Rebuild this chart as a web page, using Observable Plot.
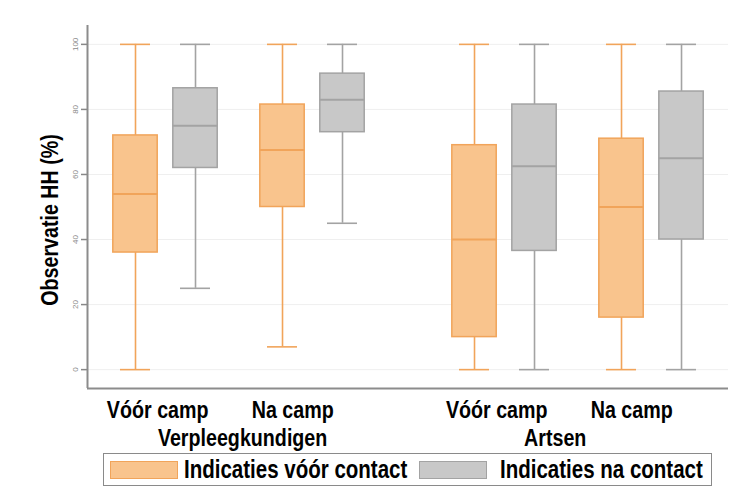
<!DOCTYPE html>
<html>
<head>
<meta charset="utf-8">
<script src="https://cdn.jsdelivr.net/npm/d3@7"></script>
<script src="https://cdn.jsdelivr.net/npm/@observablehq/plot@0.6"></script>
<style>
  body { margin: 0; background: #fff; font-family: "Liberation Sans", sans-serif; }
  #legend { position: relative; margin-left: 103px; width: 607px; height: 31px; border: 1.5px solid #8a8a8a; margin-top: 1px; box-sizing: content-box; }
  #legend .sw { position: absolute; top: 7px; width: 68px; height: 18px; box-sizing: border-box; }
  #legend .lb { position: absolute; top: 0px; font-weight: bold; font-size: 25px; line-height: 31px; color: #000; white-space: nowrap; transform: scaleX(0.82); transform-origin: 0 50%; }
</style>
</head>
<body>
<div id="chart"></div>
<script>
// ---- data ----
const groups = ["Verpleegkundigen", "Artsen"];
const camps = ["Vóór camp", "Na camp"];
const series = ["Indicaties vóór contact", "Indicaties na contact"];
// order: group -> camp -> series
const mins    = [0, 25, 7, 45, 0, 0, 0, 0];
const q1s     = [36, 62, 50, 73, 10, 36.5, 16, 40];
const medians = [54, 75, 67.5, 83, 40, 62.5, 50, 65];
const q3s     = [72, 86.5, 81.5, 91, 69, 81.5, 71, 85.5];
const maxs    = [100, 100, 100, 100, 100, 100, 100, 100];
const yTicks  = [0, 20, 40, 60, 80, 100];

// ---- layout helpers ----
const groupStep = 5.65, campStep = 2.45, seriesStep = 1;
const boxHalf = 0.37, capHalf = 0.25;
const fills   = {"Indicaties vóór contact": "#f9c48d", "Indicaties na contact": "#c8c8c8"};
const strokes = {"Indicaties vóór contact": "#f1a45a", "Indicaties na contact": "#a3a3a3"};

const boxes = [];
let k = 0;
groups.forEach((g, gi) => camps.forEach((c, ci) => series.forEach((s, si) => {
  boxes.push({group: g, camp: c, series: s,
    pos: gi * groupStep + ci * campStep + si * seriesStep,
    min: mins[k], q1: q1s[k], med: medians[k], q3: q3s[k], max: maxs[k]});
  k++;
})));

// label nudges (in x units) to mimic the reference's slightly left-shifted labels
const campNudge = [-0.13, -0.33];
const groupNudge = [0.06, -0.38];
const campLabels = [];
groups.forEach((g, gi) => camps.forEach((c, ci) => {
  campLabels.push({label: c, pos: gi * groupStep + ci * campStep + seriesStep / 2 + campNudge[ci]});
}));
const groupLabels = groups.map((g, gi) => ({label: g, pos: gi * groupStep + campStep / 2 + seriesStep / 2 + groupNudge[gi]}));

const xDomain = [-0.8, 9.883];
const yDomain = [-5.8, 105.8];
const font = "Liberation Sans";

const chart = Plot.plot({
  width: 754,
  height: 452,
  marginLeft: 87,
  marginRight: 26,
  marginTop: 25,
  marginBottom: 64,
  style: {fontFamily: font, background: "#fff"},
  x: {domain: xDomain, axis: null},
  y: {domain: yDomain, axis: null},
  marks: [
    Plot.ruleY(yTicks, {stroke: "#efefef", strokeWidth: 1}),
    Plot.axisY(yTicks, {anchor: "left", tickSize: 6, tickPadding: 4, tickRotate: -90, fontSize: 8, fill: "#8a8a8a", stroke: "#888", strokeWidth: 1.5, label: null}),
    // whiskers
    Plot.ruleX(boxes, {x: "pos", y1: "min", y2: "q1", stroke: d => strokes[d.series], strokeWidth: 1.6}),
    Plot.ruleX(boxes, {x: "pos", y1: "q3", y2: "max", stroke: d => strokes[d.series], strokeWidth: 1.6}),
    Plot.ruleY(boxes, {y: "min", x1: d => d.pos - capHalf, x2: d => d.pos + capHalf, stroke: d => strokes[d.series], strokeWidth: 1.6}),
    Plot.ruleY(boxes, {y: "max", x1: d => d.pos - capHalf, x2: d => d.pos + capHalf, stroke: d => strokes[d.series], strokeWidth: 1.6}),
    // boxes
    Plot.rect(boxes, {x1: d => d.pos - boxHalf, x2: d => d.pos + boxHalf, y1: "q1", y2: "q3",
      fill: d => fills[d.series], stroke: d => strokes[d.series], strokeWidth: 1.5}),
    Plot.ruleY(boxes, {y: "med", x1: d => d.pos - boxHalf, x2: d => d.pos + boxHalf, stroke: d => strokes[d.series], strokeWidth: 2}),
    // axis lines
    Plot.ruleX([xDomain[0]], {stroke: "#8c8c8c", strokeWidth: 2}),
    Plot.ruleY([yDomain[0]], {stroke: "#8c8c8c", strokeWidth: 2}),
    // labels
    Plot.text(campLabels, {x: "pos", text: "label", frameAnchor: "bottom", lineAnchor: "top", dy: 12,
      fontSize: 24, fontWeight: "bold", fill: "#000", textAnchor: "middle", className: "narrow"}),
    Plot.text(groupLabels, {x: "pos", text: "label", frameAnchor: "bottom", lineAnchor: "top", dy: 40,
      fontSize: 24, fontWeight: "bold", fill: "#000", textAnchor: "middle", className: "narrow"}),
    Plot.text(["Observatie HH (%)"], {frameAnchor: "left", rotate: -90, dx: -37, dy: 13,
      fontSize: 24, fontWeight: "bold", fill: "#000", textAnchor: "middle", className: "narrow"})
  ]
});

// condense the bold label text (narrow sans look)
chart.querySelectorAll(".narrow text").forEach(el => {
  const t = el.getAttribute("transform") || "";
  const x = +(el.getAttribute("x") || 0);
  el.setAttribute("transform", `${t} translate(${x},0) scale(0.82,1) translate(${-x},0)`);
});

document.getElementById("chart").appendChild(chart);

const legend = document.createElement("div");
legend.id = "legend";
const items = [{s: series[0], swX: 6, lbX: 80}, {s: series[1], swX: 315, lbX: 396}];
items.forEach(it => {
  const sw = document.createElement("div");
  sw.className = "sw";
  sw.style.left = it.swX + "px";
  sw.style.background = fills[it.s];
  sw.style.border = "1.5px solid " + strokes[it.s];
  legend.appendChild(sw);
  const lb = document.createElement("div");
  lb.className = "lb";
  lb.style.left = it.lbX + "px";
  lb.textContent = it.s;
  legend.appendChild(lb);
});
document.body.appendChild(legend);
</script>
</body>
</html>
